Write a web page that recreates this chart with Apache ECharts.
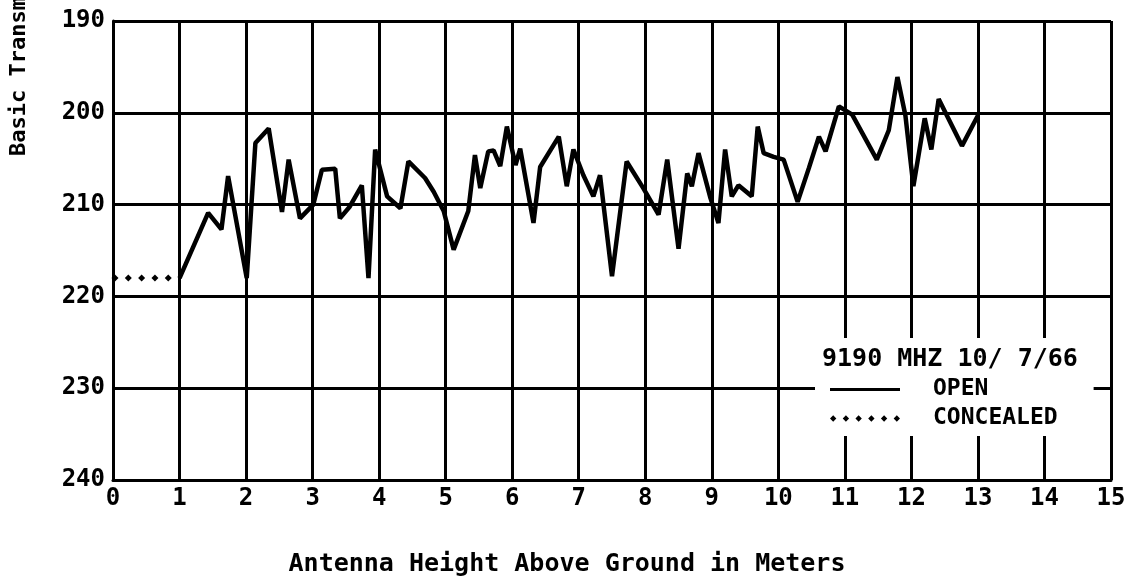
<!DOCTYPE html>
<html>
<head>
<meta charset="utf-8">
<script src="https://cdn.jsdelivr.net/npm/echarts@6/dist/echarts.min.js"></script>
<style>
  html, body { margin: 0; padding: 0; background: #fff; }
  #chart { width: 1135px; height: 583px; }
</style>
</head>
<body>
<div id="chart"></div>
<script>
var myChart = echarts.init(document.getElementById('chart'));

// antenna height (m) and basic transmission loss (dB)
const openX = [1.0, 1.43, 1.63, 1.73, 2.01, 2.14, 2.34, 2.54, 2.64, 2.81, 3.01, 3.14, 3.34, 3.41, 3.56, 3.74, 3.84, 3.94,
    4.12, 4.32, 4.44, 4.69, 4.82, 4.97, 5.12, 5.34, 5.44, 5.52, 5.64, 5.72, 5.82, 5.92, 6.05, 6.12, 6.32, 6.42, 6.70,
    6.82, 6.92, 7.07, 7.22, 7.32, 7.50, 7.72, 7.97, 8.20, 8.33, 8.50, 8.63, 8.70, 8.80, 8.98, 9.10, 9.20, 9.30, 9.40,
    9.60, 9.69, 9.78, 9.93, 10.08, 10.29, 10.46, 10.61, 10.71, 10.91, 11.11, 11.48, 11.66, 11.79, 11.91, 12.03, 12.20,
    12.30, 12.41, 12.61, 12.76, 13.0];
const openY = [218.0, 210.9, 212.7, 206.9, 218.0, 203.3, 201.7, 210.8, 205.1, 211.5, 210.0, 206.2, 206.1, 211.5, 210.2,
    207.9, 218.0, 204.0, 209.1, 210.4, 205.3, 207.1, 208.6, 210.7, 214.9, 210.7, 204.6, 208.2, 204.2, 204.1, 205.8,
    201.5, 205.7, 203.9, 212.0, 205.9, 202.6, 208.0, 204.0, 206.8, 209.1, 206.8, 217.8, 205.3, 208.2, 211.1, 205.1,
    214.8, 206.6, 208.0, 204.4, 209.3, 212.0, 204.0, 209.1, 207.9, 209.1, 201.5, 204.4, 204.8, 205.1, 209.7, 206.0,
    202.6, 204.2, 199.3, 200.2, 205.1, 201.9, 196.1, 200.3, 208.0, 200.6, 204.0, 198.5, 201.4, 203.6, 200.3];
const concealedX = [0.03, 0.23, 0.43, 0.63, 0.83];
const concealedY = [218, 218, 218, 218, 218];

const plotFont = 'DejaVu Sans Mono';
const lineIcon = 'path://M0,0L70,0L70,3L0,3Z';
const dotsIcon = 'path://M3,0L6,3L3,6L0,3Z M15,0L18,3L15,6L12,3Z M27,0L30,3L27,6L24,3Z M39,0L42,3L39,6L36,3Z M51,0L54,3L51,6L48,3Z M63,0L66,3L63,6L60,3Z';

const pairs = (xs, ys) => xs.map((x, i) => [x, ys[i]]);

option = {
    animation: false,
    backgroundColor: '#fff',
    title: {
        text: '9190 MHZ 10/ 7/66',
        left: 822,
        top: 347,
        padding: 0,
        textStyle: { fontFamily: plotFont, fontSize: 25, fontWeight: 'bold', color: '#000' }
    },
    legend: {
        left: 815,
        top: 338,
        orient: 'vertical',
        padding: [40, 36, 6, 15],
        backgroundColor: '#fff',
        itemWidth: 70,
        itemHeight: 10,
        itemGap: 6,
        textStyle: { fontFamily: plotFont, fontSize: 23, fontWeight: 'bold', color: '#000', padding: [0, 0, 0, 28] },
        data: [
            { name: 'OPEN', icon: lineIcon },
            { name: 'CONCEALED', icon: dotsIcon }
        ]
    },
    graphic: [{
        type: 'text',
        x: 19,
        y: 156,
        rotation: Math.PI / 2,
        style: {
            text: 'Basic Transm',
            font: 'bold 22px "DejaVu Sans Mono"',
            fill: '#000',
            textAlign: 'left',
            textVerticalAlign: 'middle'
        }
    }],
    grid: {
        left: 113,
        right: 24,
        top: 21,
        bottom: 103
    },
    xAxis: {
        type: 'value',
        min: 0,
        max: 15,
        interval: 1,
        name: 'Antenna Height Above Ground in Meters',
        nameLocation: 'middle',
        nameGap: 72,
        nameTextStyle: { fontFamily: plotFont, fontSize: 25, fontWeight: 'bold', color: '#000', padding: [0, 90, 0, 0] },
        axisLine: { lineStyle: { color: '#000', width: 3 } },
        axisTick: { show: false },
        axisLabel: { fontFamily: plotFont, fontSize: 24, fontWeight: 'bold', color: '#000', margin: 7 },
        splitLine: { show: true, lineStyle: { color: '#000', width: 3 } }
    },
    yAxis: {
        type: 'value',
        inverse: true,
        min: 190,
        max: 240,
        interval: 10,
        axisLine: { lineStyle: { color: '#000', width: 3 } },
        axisTick: { show: false },
        axisLabel: { fontFamily: plotFont, fontSize: 24, fontWeight: 'bold', color: '#000', margin: 8 },
        splitLine: { show: true, lineStyle: { color: '#000', width: 3 } }
    },
    series: [
        {
            name: 'OPEN',
            type: 'line',
            symbol: 'none',
            lineStyle: { color: '#000', width: 4.5 },
            itemStyle: { color: '#000' },
            z: 3,
            data: pairs(openX, openY)
        },
        {
            name: 'CONCEALED',
            type: 'line',
            symbol: 'diamond',
            symbolSize: 7,
            lineStyle: { opacity: 0 },
            itemStyle: { color: '#000' },
            z: 3,
            data: pairs(concealedX, concealedY)
        }
    ]
};

myChart.setOption(option);
</script>
</body>
</html>
